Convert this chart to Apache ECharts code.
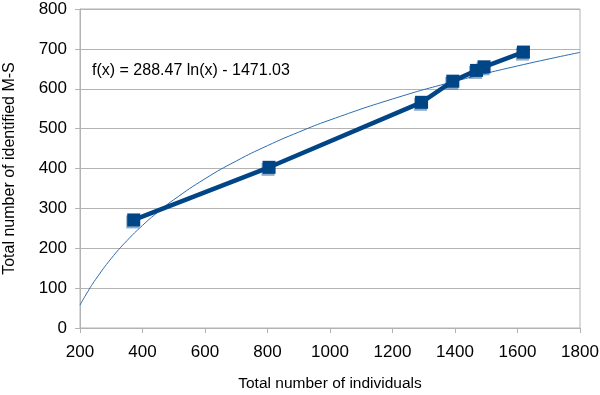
<!DOCTYPE html>
<html>
<head>
<meta charset="utf-8">
<script src="https://cdn.jsdelivr.net/npm/echarts@6/dist/echarts.min.js"></script>
<style>html,body{margin:0;padding:0;background:#fff}#c{width:600px;height:395px}</style>
</head>
<body>
<div id="c"></div>
<script>
var individuals = [372, 805, 1293, 1393, 1469, 1493, 1619];
var identifiedMS = [271, 403, 566, 619, 646, 655, 692];
// trendline f(x) = 288.47 ln(x) - 1471.03, values read at sample x positions
var trendX = [200, 225, 250, 300, 350, 400, 450, 500, 600, 700, 800, 900, 1000, 1200, 1400, 1600, 1800];
var trendY = [57.4, 91.4, 121.8, 174.4, 218.8, 257.3, 291.3, 321.7, 374.3, 418.8, 457.3, 491.3, 521.7, 574.3, 618.7, 657.2, 691.2];
var equationText = 'f(x) = 288.47 ln(x) - 1471.03';
var xName = 'Total number of individuals';
var yName = 'Total number of identified M-S';

var FONT = 'Liberation Sans, Arial, sans-serif';
var chart = echarts.init(document.getElementById('c'));
function plain(v) { return String(v); }
chart.setOption({
  animation: false,
  grid: {left: 80, right: 20, top: 9, bottom: 67, containLabel: false, outerBoundsMode: 'none',
         show: true, borderColor: '#b3b3b3', borderWidth: 1, backgroundColor: 'transparent'},
  xAxis: {
    type: 'value', min: 200, max: 1800, interval: 200,
    name: xName, nameLocation: 'middle', nameGap: 48,
    nameTextStyle: {fontFamily: FONT, fontSize: 15.5, color: '#000'},
    axisLine: {show: true, lineStyle: {color: '#b3b3b3'}},
    axisTick: {show: true, length: 5, lineStyle: {color: '#b3b3b3'}},
    axisLabel: {fontFamily: FONT, fontSize: 17, color: '#000', margin: 16, formatter: plain},
    splitLine: {show: false}
  },
  yAxis: {
    type: 'value', min: 0, max: 800, interval: 100,
    name: yName, nameLocation: 'middle', nameGap: 62,
    nameTextStyle: {fontFamily: FONT, fontSize: 16, color: '#000'},
    axisLine: {show: true, lineStyle: {color: '#b3b3b3'}},
    axisTick: {show: true, length: 5, lineStyle: {color: '#b3b3b3'}},
    axisLabel: {fontFamily: FONT, fontSize: 17, color: '#000', margin: 13, formatter: plain},
    splitLine: {show: true, lineStyle: {color: '#b3b3b3'}}
  },
  graphic: [{
    type: 'text', left: 92, top: 63, silent: true,
    style: {text: equationText, font: '16px ' + FONT, fill: '#000'}
  }],
  series: [{
    type: 'line', name: 'trend', smooth: true, showSymbol: false, symbol: 'none',
    data: trendX.map(function (x, i) { return [x, trendY[i]]; }),
    lineStyle: {color: '#2a6cb0', width: 1}, z: 3
  }, {
    type: 'line', name: 'data', symbol: 'rect', symbolSize: 13,
    data: individuals.map(function (x, i) { return [x, identifiedMS[i]]; }),
    lineStyle: {color: '#004586', width: 4.5},
    itemStyle: {color: '#004586', shadowColor: 'rgba(0,69,134,0.45)', shadowOffsetX: -1, shadowOffsetY: 2, shadowBlur: 0},
    z: 4
  }]
});
</script>
</body>
</html>
